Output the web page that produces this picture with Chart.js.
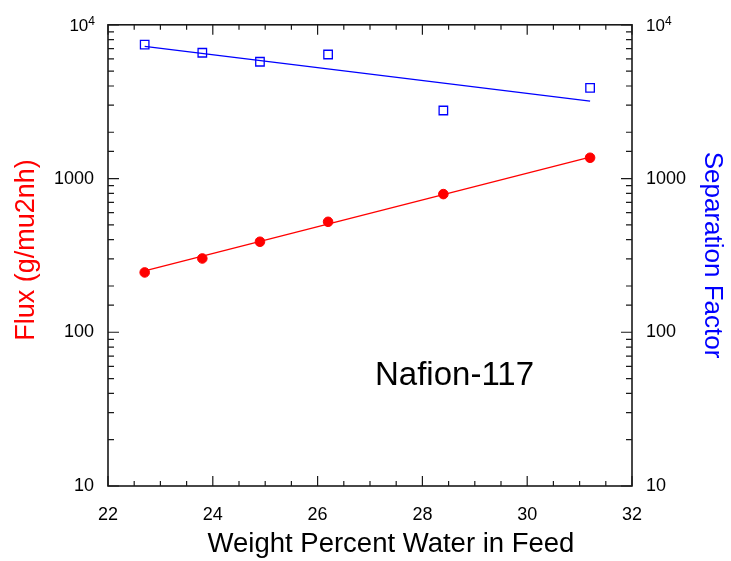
<!DOCTYPE html>
<html>
<head>
<meta charset="utf-8">
<script src="https://cdn.jsdelivr.net/npm/chart.js@4/dist/chart.umd.min.js"></script>
<style>
  body { margin: 0; background: #fff; }
  #wrap { width: 731px; height: 561px; position: relative; }
</style>
</head>
<body>
<div id="wrap"><canvas id="fluxChart"></canvas></div>
<script>
// values
const waterPct = [22.7, 23.8, 24.9, 26.2, 28.4, 31.2];
const flux = [245, 302, 388, 523, 792, 1365];
const sepFactor = [7430, 6580, 5750, 6410, 2770, 3890];

// fitted lines, end points
const fitX = [22.7, 31.2];
const fluxFit = [251, 1380];
const sepFit = [7240, 3185];

const yLabels = [10, 100, 1000];

const pts = (xs, ys) => xs.map((x, i) => ({ x: x, y: ys[i] }));
const isDecade = v => Math.abs(Math.log10(v) - Math.round(Math.log10(v))) < 1e-9;

Chart.defaults.font.family = "'Liberation Sans', Arial, sans-serif";
Chart.defaults.color = "#000";

// frame, inward ticks, titles
const framePlugin = {
  id: "framePlugin",
  afterDraw(chart) {
    const { ctx, chartArea: a, scales } = chart;
    ctx.save();
    ctx.strokeStyle = "#1a1a1a";
    ctx.lineWidth = 1.6;
    ctx.strokeRect(a.left, a.top, a.right - a.left, a.bottom - a.top);

    ctx.lineWidth = 1.2;
    ctx.beginPath();
    scales.x.ticks.forEach(t => {
      const px = scales.x.getPixelForValue(t.value);
      const len = t.value % 2 === 0 ? 10 : 5;
      ctx.moveTo(px, a.bottom); ctx.lineTo(px, a.bottom - len);
      ctx.moveTo(px, a.top); ctx.lineTo(px, a.top + len);
    });
    scales.y.ticks.forEach(t => {
      const py = scales.y.getPixelForValue(t.value);
      const len = isDecade(t.value) ? 11 : 6;
      ctx.moveTo(a.left, py); ctx.lineTo(a.left + len, py);
      ctx.moveTo(a.right, py); ctx.lineTo(a.right - len, py);
    });
    ctx.stroke();

    // 10^4 labels
    const ty = scales.y.getPixelForValue(10000);
    ctx.fillStyle = "#000";
    ctx.textBaseline = "alphabetic";
    ctx.font = "12px 'Liberation Sans', Arial, sans-serif";
    const w4 = ctx.measureText("4").width;
    ctx.font = "17px 'Liberation Sans', Arial, sans-serif";
    const w10 = ctx.measureText("10").width;
    // left
    let x0 = 95 - w4 - w10;
    ctx.fillText("10", x0, ty + 6.5);
    ctx.font = "12px 'Liberation Sans', Arial, sans-serif";
    ctx.fillText("4", x0 + w10, ty);
    // right
    x0 = 646;
    ctx.font = "17px 'Liberation Sans', Arial, sans-serif";
    ctx.fillText("10", x0, ty + 6.5);
    ctx.font = "12px 'Liberation Sans', Arial, sans-serif";
    ctx.fillText("4", x0 + w10, ty);

    // axis titles
    ctx.textAlign = "center";
    ctx.font = "27.5px 'Liberation Sans', Arial, sans-serif";
    ctx.fillText("Weight Percent Water in Feed", 391, 552);

    ctx.save();
    ctx.translate(34, 250);
    ctx.rotate(-Math.PI / 2);
    ctx.fillStyle = "#ff0000";
    ctx.font = "27px 'Liberation Sans', Arial, sans-serif";
    ctx.fillText("Flux (g/mu2nh)", 0, 0);
    ctx.restore();

    ctx.save();
    ctx.translate(705, 255);
    ctx.rotate(Math.PI / 2);
    ctx.fillStyle = "#0000ff";
    ctx.font = "26px 'Liberation Sans', Arial, sans-serif";
    ctx.fillText("Separation Factor", 0, 0);
    ctx.restore();

    ctx.textAlign = "left";
    ctx.font = "33px 'Liberation Sans', Arial, sans-serif";
    ctx.fillText("Nafion-117", 375, 385);
    ctx.restore();
  }
};

const logAxis = (pos, width) => ({
  type: "logarithmic",
  position: pos,
  min: 10,
  max: 10000,
  grid: { display: false, drawTicks: false },
  border: { display: false },
  ticks: {
    autoSkip: false,
    padding: 14,
    font: { size: 18 },
    callback: v => yLabels.includes(v) ? String(v) : ""
  },
  afterFit: s => { s.width = width; }
});

new Chart(document.getElementById("fluxChart"), {
  type: "scatter",
  data: {
    datasets: [
      {
        data: pts(fitX, fluxFit),
        showLine: true,
        borderColor: "#ff0000",
        borderWidth: 1.3,
        pointRadius: 0,
        yAxisID: "y"
      },
      {
        data: pts(waterPct, flux),
        pointStyle: "circle",
        pointRadius: 4.8,
        backgroundColor: "#ff0000",
        borderColor: "#ff0000",
        yAxisID: "y"
      },
      {
        data: pts(fitX, sepFit),
        showLine: true,
        borderColor: "#0000ff",
        borderWidth: 1.3,
        pointRadius: 0,
        yAxisID: "y2"
      },
      {
        data: pts(waterPct, sepFactor),
        pointStyle: "rect",
        pointRadius: 6,
        backgroundColor: "rgba(255,255,255,0)",
        borderColor: "#0000ff",
        borderWidth: 1.3,
        yAxisID: "y2"
      }
    ]
  },
  options: {
    responsive: true,
    maintainAspectRatio: false,
    animation: false,
    layout: { padding: { top: 20, left: 0, right: 0, bottom: 0 } },
    plugins: { legend: { display: false }, tooltip: { enabled: false } },
    scales: {
      x: {
        type: "linear",
        min: 22,
        max: 32,
        grid: { display: false, drawTicks: false },
        border: { display: false },
        ticks: {
          stepSize: 0.5,
          autoSkip: false,
          maxRotation: 0,
          padding: 18,
          font: { size: 18 },
          callback: v => v % 2 === 0 ? String(v) : ""
        },
        afterFit: s => { s.height = 75; }
      },
      y: logAxis("left", 108),
      y2: logAxis("right", 99)
    }
  },
  plugins: [framePlugin]
});
</script>
</body>
</html>
